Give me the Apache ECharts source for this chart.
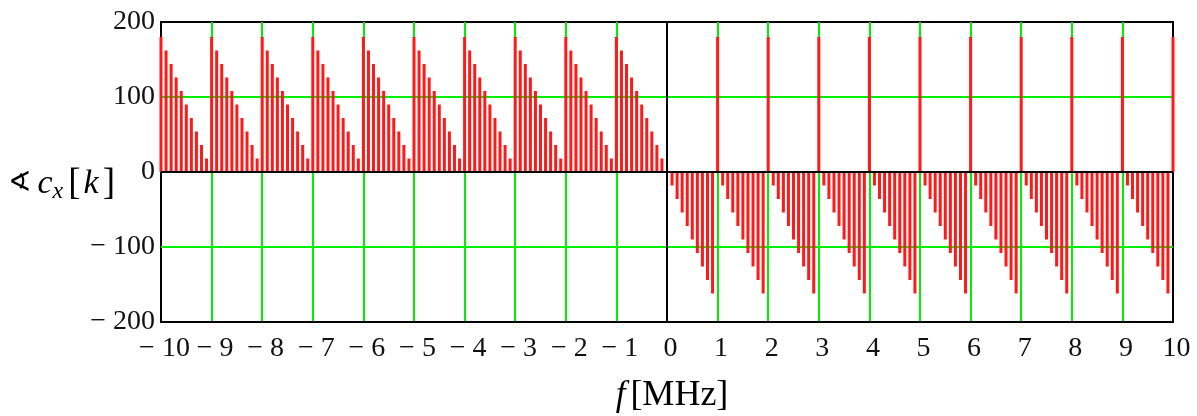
<!DOCTYPE html>
<html>
<head>
<meta charset="utf-8">
<script src="https://cdn.jsdelivr.net/npm/echarts@6/dist/echarts.min.js"></script>
<style>
  html, body { margin: 0; padding: 0; background: #fff; }
  #phaseChart { width: 1197px; height: 416px; }
</style>
</head>
<body>
<div id="phaseChart"></div>
<script>
// frequency of every spectral line, MHz (one row per MHz)
const freqs = [
  -10, -9.9, -9.8, -9.7, -9.6, -9.5, -9.4, -9.3, -9.2, -9.1,
  -9, -8.9, -8.8, -8.7, -8.6, -8.5, -8.4, -8.3, -8.2, -8.1,
  -8, -7.9, -7.8, -7.7, -7.6, -7.5, -7.4, -7.3, -7.2, -7.1,
  -7, -6.9, -6.8, -6.7, -6.6, -6.5, -6.4, -6.3, -6.2, -6.1,
  -6, -5.9, -5.8, -5.7, -5.6, -5.5, -5.4, -5.3, -5.2, -5.1,
  -5, -4.9, -4.8, -4.7, -4.6, -4.5, -4.4, -4.3, -4.2, -4.1,
  -4, -3.9, -3.8, -3.7, -3.6, -3.5, -3.4, -3.3, -3.2, -3.1,
  -3, -2.9, -2.8, -2.7, -2.6, -2.5, -2.4, -2.3, -2.2, -2.1,
  -2, -1.9, -1.8, -1.7, -1.6, -1.5, -1.4, -1.3, -1.2, -1.1,
  -1, -0.9, -0.8, -0.7, -0.6, -0.5, -0.4, -0.3, -0.2, -0.1,
  0, 0.1, 0.2, 0.3, 0.4, 0.5, 0.6, 0.7, 0.8, 0.9,
  1, 1.1, 1.2, 1.3, 1.4, 1.5, 1.6, 1.7, 1.8, 1.9,
  2, 2.1, 2.2, 2.3, 2.4, 2.5, 2.6, 2.7, 2.8, 2.9,
  3, 3.1, 3.2, 3.3, 3.4, 3.5, 3.6, 3.7, 3.8, 3.9,
  4, 4.1, 4.2, 4.3, 4.4, 4.5, 4.6, 4.7, 4.8, 4.9,
  5, 5.1, 5.2, 5.3, 5.4, 5.5, 5.6, 5.7, 5.8, 5.9,
  6, 6.1, 6.2, 6.3, 6.4, 6.5, 6.6, 6.7, 6.8, 6.9,
  7, 7.1, 7.2, 7.3, 7.4, 7.5, 7.6, 7.7, 7.8, 7.9,
  8, 8.1, 8.2, 8.3, 8.4, 8.5, 8.6, 8.7, 8.8, 8.9,
  9, 9.1, 9.2, 9.3, 9.4, 9.5, 9.6, 9.7, 9.8, 9.9,
  10
];

// phase of c_x[k], degrees (same rows as freqs)
const phases = [
  180, 162, 144, 126, 108, 90, 72, 54, 36, 18,
  180, 162, 144, 126, 108, 90, 72, 54, 36, 18,
  180, 162, 144, 126, 108, 90, 72, 54, 36, 18,
  180, 162, 144, 126, 108, 90, 72, 54, 36, 18,
  180, 162, 144, 126, 108, 90, 72, 54, 36, 18,
  180, 162, 144, 126, 108, 90, 72, 54, 36, 18,
  180, 162, 144, 126, 108, 90, 72, 54, 36, 18,
  180, 162, 144, 126, 108, 90, 72, 54, 36, 18,
  180, 162, 144, 126, 108, 90, 72, 54, 36, 18,
  180, 162, 144, 126, 108, 90, 72, 54, 36, 18,
  0, -18, -36, -54, -72, -90, -108, -126, -144, -162,
  180, -18, -36, -54, -72, -90, -108, -126, -144, -162,
  180, -18, -36, -54, -72, -90, -108, -126, -144, -162,
  180, -18, -36, -54, -72, -90, -108, -126, -144, -162,
  180, -18, -36, -54, -72, -90, -108, -126, -144, -162,
  180, -18, -36, -54, -72, -90, -108, -126, -144, -162,
  180, -18, -36, -54, -72, -90, -108, -126, -144, -162,
  180, -18, -36, -54, -72, -90, -108, -126, -144, -162,
  180, -18, -36, -54, -72, -90, -108, -126, -144, -162,
  180, -18, -36, -54, -72, -90, -108, -126, -144, -162,
  180
];

// axis ticks
const xTicks = [-10, 10, 1];      // min, max, step
const yTicks = [-200, 200, 100];

const serif = "'Liberation Serif', 'Times New Roman', serif";

// "− 10" style labels like mathcad
function minusFmt(v) {
  return v < 0 ? "\u2212 " + Math.abs(v) : String(v);
}

let chart = echarts.init(document.getElementById("phaseChart"));

let stems = freqs.map((f, i) => [f, phases[i]]);

let option = {
  backgroundColor: "#fff",
  animation: false,
  grid: {
    left: 161,
    right: 24,
    top: 22,
    bottom: 94,
    outerBoundsMode: "none", //keep the plot box where it is
    show: true,
    borderColor: "#000",
    borderWidth: 2
  },
  xAxis: {
    type: "value",
    min: xTicks[0],
    max: xTicks[1],
    interval: xTicks[2],
    name: "{it|f}{up|[MHz]}",
    nameLocation: "middle",
    nameGap: 56,
    nameMoveOverlap: false,
    nameTextStyle: {
      padding: [0, 0, 0, 10],
      rich: {
        it: { fontFamily: serif, fontStyle: "italic", fontSize: 35, color: "#000", padding: [0, 5, 0, 0] },
        up: { fontFamily: serif, fontSize: 36, color: "#000" }
      }
    },
    axisLine: { show: true, onZero: false, lineStyle: { color: "#000", width: 2 } },
    axisTick: { show: false },
    axisLabel: {
      fontFamily: serif,
      fontSize: 28,
      color: "#111",
      margin: 13,
      padding: [0, 0, 0, 7],
      formatter: minusFmt
    },
    splitLine: {
      show: true,
      showMinLine: false,
      showMaxLine: false,
      lineStyle: { color: "#00ee00", width: 2 }
    }
  },
  yAxis: {
    type: "value",
    min: yTicks[0],
    max: yTicks[1],
    interval: yTicks[2],
    name: "{ang|\u2222}{it|c}{sub|x}{bl|[}{it|k}{br|]}",
    nameLocation: "middle",
    nameRotate: 0,
    nameGap: 46,
    nameMoveOverlap: false,
    nameTextStyle: {
      padding: [24, 0, 0, 0],
      rich: {
        ang: { fontFamily: "'DejaVu Sans', sans-serif", fontSize: 28, color: "#000", verticalAlign: "middle", padding: [0, 6, 0, 0] },
        it: { fontFamily: serif, fontStyle: "italic", fontSize: 34, color: "#000", verticalAlign: "middle" },
        sub: { fontFamily: serif, fontStyle: "italic", fontSize: 24, color: "#000", verticalAlign: "middle", padding: [16, 5, 0, 0] },
        bl: { fontFamily: serif, fontSize: 37, color: "#000", verticalAlign: "middle", padding: [0, 3, 0, 0] },
        br: { fontFamily: serif, fontSize: 37, color: "#000", verticalAlign: "middle", padding: [0, 0, 0, 4] }
      }
    },
    axisLine: { show: true, lineStyle: { color: "#000", width: 2 } },
    axisTick: { show: false },
    axisLabel: {
      fontFamily: serif,
      fontSize: 28,
      color: "#111",
      margin: 6,
      formatter: minusFmt
    },
    splitLine: {
      show: true,
      showMinLine: false,
      showMaxLine: false,
      lineStyle: { color: "#00ee00", width: 2 }
    }
  },
  series: [
    {
      type: "bar",
      data: stems,
      barWidth: 3,
      itemStyle: { color: "#ff1a1a" },
      z: 3,
      //zero line drawn black on top of the grid
      markLine: {
        silent: true,
        symbol: "none",
        label: { show: false },
        lineStyle: { color: "#000", width: 2, type: "solid" },
        data: [{ yAxis: 0 }]
      }
    }
  ]
};

chart.setOption(option);
</script>
</body>
</html>
